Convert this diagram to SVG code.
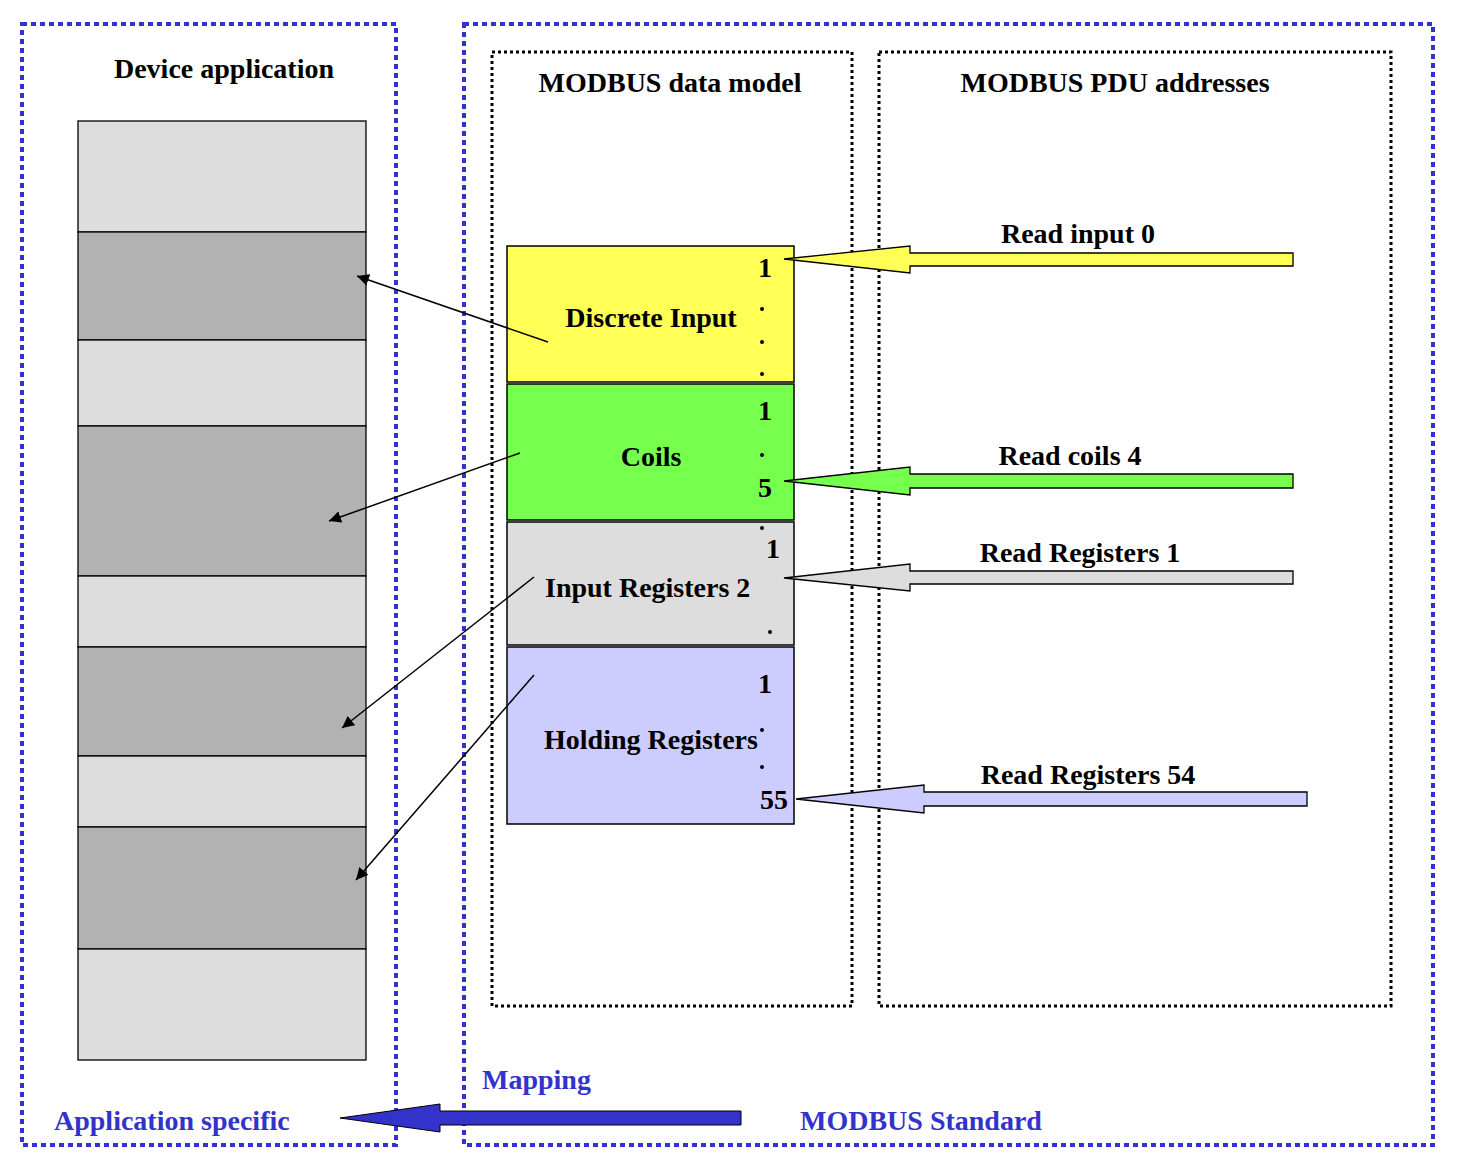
<svg xmlns="http://www.w3.org/2000/svg" width="1460" height="1165" viewBox="0 0 1460 1165">
<style>
text{font-family:"Liberation Serif","Times New Roman",serif;font-weight:bold;font-size:28px;fill:#000}
.blue{fill:#3333cc}
.ob{fill:none;stroke:#3333cc;stroke-width:4;stroke-dasharray:5 4}
.ib{fill:none;stroke:#000;stroke-width:3;stroke-dasharray:3 3}
.lt{fill:#dddddd;stroke:#000;stroke-width:1.3}
.dk{fill:#b2b2b2;stroke:#000;stroke-width:1.3}
.bx{stroke:#000;stroke-width:1.5}
.ar{stroke:#000;stroke-width:1.5}
</style>
<defs><marker id="m" viewBox="0 0 10 10" refX="10" refY="5" markerWidth="12" markerHeight="12" markerUnits="userSpaceOnUse" orient="auto"><path d="M0,0L10,5L0,10z" fill="#000"/></marker></defs>
<rect width="1460" height="1165" fill="#fff"/>
<g id="frames">
<rect class="ob" x="22" y="24" width="374" height="1121"/>
<rect class="ob" x="464" y="24" width="969" height="1121"/>
<rect class="ib" x="492" y="52" width="360" height="954"/>
<rect class="ib" x="879" y="52" width="512" height="954"/>
<text x="224" y="78" text-anchor="middle">Device application</text>
<text x="670" y="92" text-anchor="middle">MODBUS data model</text>
<text x="1115" y="92" text-anchor="middle">MODBUS PDU addresses</text>
</g>
<g id="memory">
<rect class="lt" x="78" y="121" width="288" height="111"/>
<rect class="dk" x="78" y="232" width="288" height="108"/>
<rect class="lt" x="78" y="340" width="288" height="86"/>
<rect class="dk" x="78" y="426" width="288" height="150"/>
<rect class="lt" x="78" y="576" width="288" height="71"/>
<rect class="dk" x="78" y="647" width="288" height="109"/>
<rect class="lt" x="78" y="756" width="288" height="71"/>
<rect class="dk" x="78" y="827" width="288" height="122"/>
<rect class="lt" x="78" y="949" width="288" height="111"/>
</g>
<g id="discrete">
<rect class="bx" x="507" y="246" width="287" height="136" fill="#ffff55"/>
<text x="651" y="327" text-anchor="middle">Discrete Input</text>
<text x="765" y="277" text-anchor="middle">1</text>
<circle cx="762" cy="309" r="2"/><circle cx="762" cy="342" r="2"/><circle cx="762" cy="374" r="2"/>
</g>
<g id="coils">
<rect class="bx" x="507" y="384" width="287" height="136" fill="#77ff4d"/>
<text x="651" y="466" text-anchor="middle">Coils</text>
<text x="765" y="420" text-anchor="middle">1</text>
<circle cx="762" cy="455" r="2"/>
<text x="765" y="497" text-anchor="middle">5</text>
</g>
<g id="inputreg">
<rect class="bx" x="507" y="522" width="287" height="123" fill="#dddddd"/>
<circle cx="762" cy="528" r="2"/>
<text x="773" y="558" text-anchor="middle">1</text>
<text x="545" y="597">Input Registers 2</text>
<circle cx="770" cy="632" r="2"/>
</g>
<g id="holding">
<rect class="bx" x="507" y="647" width="287" height="177" fill="#ccccff"/>
<text x="765" y="693" text-anchor="middle">1</text>
<text x="651" y="749" text-anchor="middle">Holding Registers</text>
<circle cx="762" cy="730" r="2"/><circle cx="762" cy="767" r="2"/>
<text x="774" y="809" text-anchor="middle">55</text>
</g>
<g id="requests">
<polygon points="784,259 910,246 910,253 1293,253 1293,266 910,266 910,273" fill="#ffff55" stroke="#000" stroke-width="1.3"/>
<text x="1078" y="243" text-anchor="middle">Read input 0</text>
<polygon points="784,481 910,467 910,474 1293,474 1293,488 910,488 910,495" fill="#77ff4d" stroke="#000" stroke-width="1.3"/>
<text x="1070" y="465" text-anchor="middle">Read coils 4</text>
<polygon points="784,578 910,564 910,571 1293,571 1293,584 910,584 910,591" fill="#dddddd" stroke="#000" stroke-width="1.3"/>
<text x="1080" y="562" text-anchor="middle">Read Registers 1</text>
<polygon points="796,799 924,785 924,792 1307,792 1307,806 924,806 924,813" fill="#ccccff" stroke="#000" stroke-width="1.3"/>
<text x="1088" y="784" text-anchor="middle">Read Registers 54</text>
</g>
<g id="connectors">
<line class="ar" x1="548" y1="342" x2="357" y2="276" marker-end="url(#m)"/>
<line class="ar" x1="520" y1="453" x2="329" y2="521" marker-end="url(#m)"/>
<line class="ar" x1="534" y1="577" x2="342" y2="728" marker-end="url(#m)"/>
<line class="ar" x1="534" y1="675" x2="356" y2="880" marker-end="url(#m)"/>
</g>
<g id="mapping">
<polygon points="340,1118 440,1104 440,1111 741,1111 741,1125 440,1125 440,1132" fill="#3333cc" stroke="#000" stroke-width="1"/>
<text class="blue" x="482" y="1089">Mapping</text>
<text class="blue" x="54" y="1130">Application specific</text>
<text class="blue" x="800" y="1130">MODBUS Standard</text>
</g>
</svg>
